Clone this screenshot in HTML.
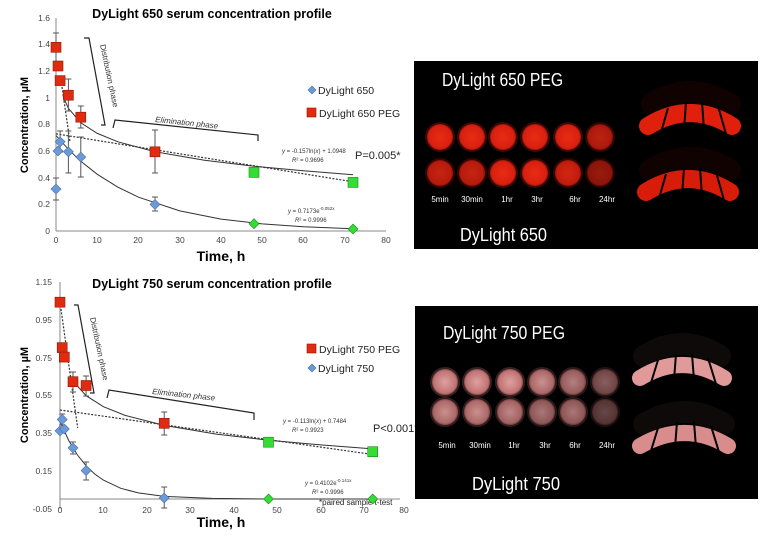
<!DOCTYPE html>
<html><head><meta charset="utf-8"><style>
html,body{margin:0;padding:0;background:#fff;}
svg{display:block;font-family:"Liberation Sans",sans-serif;}
</style></head><body>
<svg width="770" height="542" viewBox="0 0 770 542" xmlns="http://www.w3.org/2000/svg">
<defs>
<radialGradient id="wr" cx="50%" cy="50%" r="50%"><stop offset="0" stop-color="#e82c14"/><stop offset="0.8" stop-color="#d82010"/><stop offset="1" stop-color="#801008"/></radialGradient>
<radialGradient id="wp" cx="50%" cy="50%" r="50%"><stop offset="0" stop-color="#e0a0a0"/><stop offset="0.8" stop-color="#c07474"/><stop offset="1" stop-color="#603838"/></radialGradient>
</defs>

<!-- ===== TOP CHART ===== -->
<text x="212" y="18" font-size="12.5" font-weight="bold" text-anchor="middle">DyLight 650 serum concentration profile</text>
<g stroke="#888" stroke-width="1">
<line x1="56" y1="18" x2="56" y2="231"/><line x1="56" y1="231" x2="386" y2="231"/>
</g>
<g font-size="8.5" fill="#444" text-anchor="end">
<text x="50" y="234">0</text><text x="50" y="207">0.2</text><text x="50" y="181">0.4</text><text x="50" y="154">0.6</text><text x="50" y="127">0.8</text><text x="50" y="101">1</text><text x="50" y="74">1.2</text><text x="50" y="47">1.4</text><text x="50" y="21">1.6</text>
</g>
<g font-size="8.5" fill="#444" text-anchor="middle">
<text x="56" y="243">0</text><text x="97" y="243">10</text><text x="138" y="243">20</text><text x="180" y="243">30</text><text x="221" y="243">40</text><text x="262" y="243">50</text><text x="303" y="243">60</text><text x="345" y="243">70</text><text x="386" y="243">80</text>
</g>
<text x="221" y="261" font-size="14" font-weight="bold" text-anchor="middle">Time, h</text>
<text transform="translate(28,125) rotate(-90)" font-size="11" font-weight="bold" text-anchor="middle">Concentration, µM</text>

<g fill="none" stroke="#333" stroke-width="1">
<polyline points="56,135.6 68.4,149.3 80.8,161.3 97.3,174.3 117.9,187.2 138.5,197.2 179.8,210.9 221,219.1 262.3,223.9 303.5,226.8 353,228.8"/>
<polyline points="63,96.3 68.4,108.3 80.8,122.8 97.3,133.4 117.9,141.8 155,151.7 204.5,160.2 254,166.2 303.5,170.8 353,174.7"/>
</g>
<g fill="none" stroke="#333" stroke-width="1.2" stroke-dasharray="2,1.5">
<line x1="56" y1="133.8" x2="353" y2="181.8"/>
<line x1="62" y1="87" x2="70" y2="142"/>
</g>
<g stroke="#555" stroke-width="1">
<path d="M56,33V62M53,33h6M53,62h6"/>
<path d="M68.4,79V111M65.4,79h6M65.4,111h6"/>
<path d="M80.8,106V128M77.8,106h6M77.8,128h6"/>
<path d="M155,130V173M152,130h6M152,173h6"/>
<path d="M56,178V200M53,178h6M53,200h6"/>
<path d="M60.1,131V152M57.1,131h6M57.1,152h6"/>
<path d="M68.4,131V173M65.4,131h6M65.4,173h6"/>
<path d="M80.8,137V177M77.8,137h6M77.8,177h6"/>
<path d="M155,197V211M152,197h6M152,211h6"/>
</g>
<g fill="#6a9ad8" stroke="#4a6ea8" stroke-width="0.6">
<path d="M56,184l5,5l-5,5l-5,-5z"/><path d="M58,146l5,5l-5,5l-5,-5z"/><path d="M60.1,136.8l5,5l-5,5l-5,-5z"/><path d="M68.4,146.8l5,5l-5,5l-5,-5z"/><path d="M80.8,152.1l5,5l-5,5l-5,-5z"/><path d="M155,199.4l5,5l-5,5l-5,-5z"/>
</g>
<g fill="#33dd33" stroke="#1a8a1a" stroke-width="0.6">
<path d="M254,218.7l5,5l-5,5l-5,-5z"/><path d="M353,224l5,5l-5,5l-5,-5z"/>
<rect x="249" y="167.4" width="10" height="10"/><rect x="348" y="177.4" width="10" height="10"/>
</g>
<g fill="#e02b10" stroke="#8a1a08" stroke-width="0.6">
<rect x="51" y="42.3" width="10" height="10"/><rect x="53" y="61" width="10" height="10"/><rect x="55.1" y="75.6" width="10" height="10"/><rect x="63.4" y="90.2" width="10" height="10"/><rect x="75.8" y="112.2" width="10" height="10"/><rect x="150" y="146.8" width="10" height="10"/>
</g>
<g fill="none" stroke="#222" stroke-width="1.2">
<path d="M84,38H89L105,125H101"/>
<path d="M113,128L115,120L258,135V141"/>
</g>
<text transform="translate(100,45) rotate(78)" font-size="8" fill="#333">Distribution phase</text>
<text transform="translate(155,122) rotate(6)" font-size="8" font-style="italic" fill="#333">Elimination phase</text>
<path d="M312,86l4,4l-4,4l-4,-4z" fill="#6a9ad8" stroke="#4a6ea8" stroke-width="0.6"/>
<text x="318" y="94" font-size="10.5" fill="#222">DyLight 650</text>
<rect x="307" y="108" width="9" height="9" fill="#e02b10" stroke="#8a1a08" stroke-width="0.6"/>
<text x="319" y="117" font-size="10.5" fill="#222">DyLight 650 PEG</text>
<text x="282" y="153" font-size="6" fill="#333"><tspan font-style="italic">y</tspan> = -0.157ln(<tspan font-style="italic">x</tspan>) + 1.0948</text>
<text x="292" y="162" font-size="6" fill="#333"><tspan font-style="italic">R</tspan>² = 0.9696</text>
<text x="355" y="159" font-size="11" fill="#222">P=0.005*</text>
<text x="288" y="213" font-size="6" fill="#333"><tspan font-style="italic">y</tspan> = 0.7173e<tspan font-size="4.5" dy="-3">-0.052x</tspan></text>
<text x="295" y="222" font-size="6" fill="#333"><tspan font-style="italic">R</tspan>² = 0.9996</text>

<!-- ===== BOTTOM CHART ===== -->
<text x="212" y="288" font-size="12.5" font-weight="bold" text-anchor="middle">DyLight 750 serum concentration profile</text>
<g stroke="#888" stroke-width="1">
<line x1="60" y1="282" x2="60" y2="509"/><line x1="60" y1="499" x2="400" y2="499"/>
</g>
<g font-size="8.5" fill="#444" text-anchor="end">
<text x="52" y="512">-0.05</text><text x="52" y="474">0.15</text><text x="52" y="436">0.35</text><text x="52" y="398">0.55</text><text x="52" y="361">0.75</text><text x="52" y="323">0.95</text><text x="52" y="285">1.15</text>
</g>
<g font-size="8.5" fill="#444" text-anchor="middle">
<text x="60" y="513">0</text><text x="103" y="513">10</text><text x="147" y="513">20</text><text x="190" y="513">30</text><text x="234" y="513">40</text><text x="277" y="513">50</text><text x="321" y="513">60</text><text x="364" y="513">70</text><text x="404" y="513">80</text>
</g>
<text x="221" y="527" font-size="14" font-weight="bold" text-anchor="middle">Time, h</text>
<text x="319" y="505" font-size="8" fill="#222">*paired sample t-test</text>
<text transform="translate(28,395) rotate(-90)" font-size="11" font-weight="bold" text-anchor="middle">Concentration, µM</text>

<g fill="none" stroke="#333" stroke-width="1">
<polyline points="60,421.4 68.7,440.5 77.4,454.9 86.1,465.8 94.7,474 103.4,480.1 120.8,488.3 138.2,492.9 164.2,496.4 212,498.4 268,499 372.7,499"/>
<polyline points="73,381 86.1,395.7 103.4,406.7 125.1,415.4 164.2,425.4 216.3,434.1 268.5,440.2 320.6,444.9 372.7,448.9"/>
</g>
<g fill="none" stroke="#333" stroke-width="1.2" stroke-dasharray="2,1.5">
<line x1="60" y1="410" x2="372.7" y2="454.5"/>
<line x1="60" y1="302" x2="77.7" y2="428"/>
</g>
<g stroke="#555" stroke-width="1">
<path d="M73,372V392M70,372h6M70,392h6"/>
<path d="M86.1,376V396M83.1,376h6M83.1,396h6"/>
<path d="M164.2,412V435M161.2,412h6M161.2,435h6"/>
<path d="M62.2,414V425M59.2,414h6M59.2,425h6"/>
<path d="M73,442V454M70,442h6M70,454h6"/>
<path d="M86.1,462V480M83.1,462h6M83.1,480h6"/>
<path d="M164.2,487V508M161.2,487h6M161.2,508h6"/>
</g>
<g fill="#6a9ad8" stroke="#4a6ea8" stroke-width="0.6">
<path d="M60,425.9l5,5l-5,5l-5,-5z"/><path d="M62.2,414.5l5,5l-5,5l-5,-5z"/><path d="M64.3,424l5,5l-5,5l-5,-5z"/><path d="M73,442.9l5,5l-5,5l-5,-5z"/><path d="M86.1,465.6l5,5l-5,5l-5,-5z"/><path d="M164.2,493l5,5l-5,5l-5,-5z"/>
</g>
<g fill="#33dd33" stroke="#1a8a1a" stroke-width="0.6">
<path d="M268.5,494l5,5l-5,5l-5,-5z"/><path d="M372.7,494l5,5l-5,5l-5,-5z"/>
<rect x="263.5" y="437.2" width="10" height="10"/><rect x="367.7" y="446.7" width="10" height="10"/>
</g>
<g fill="#e02b10" stroke="#8a1a08" stroke-width="0.6">
<rect x="55" y="297.2" width="10" height="10"/><rect x="57.2" y="342.6" width="10" height="10"/><rect x="59.3" y="352.1" width="10" height="10"/><rect x="68" y="376.7" width="10" height="10"/><rect x="81.1" y="380.5" width="10" height="10"/><rect x="159.2" y="418.3" width="10" height="10"/>
</g>
<g fill="none" stroke="#222" stroke-width="1.2">
<path d="M74,305H78L94,393H90"/>
<path d="M107,398L109,390L254,413V420"/>
</g>
<text transform="translate(90,318) rotate(78)" font-size="8" fill="#333">Distribution phase</text>
<text transform="translate(152,394) rotate(6)" font-size="8" font-style="italic" fill="#333">Elimination phase</text>
<rect x="307" y="344" width="9" height="9" fill="#e02b10" stroke="#8a1a08" stroke-width="0.6"/>
<text x="319" y="353" font-size="10.5" fill="#222">DyLight 750 PEG</text>
<path d="M312,364l4,4l-4,4l-4,-4z" fill="#6a9ad8" stroke="#4a6ea8" stroke-width="0.6"/>
<text x="318" y="372" font-size="10.5" fill="#222">DyLight 750</text>
<text x="283" y="423" font-size="6" fill="#333"><tspan font-style="italic">y</tspan> = -0.113ln(<tspan font-style="italic">x</tspan>) + 0.7484</text>
<text x="292" y="432" font-size="6" fill="#333"><tspan font-style="italic">R</tspan>² = 0.9923</text>
<text x="373" y="432" font-size="11" fill="#222">P&lt;0.001*</text>
<text x="305" y="485" font-size="6" fill="#333"><tspan font-style="italic">y</tspan> = 0.4102e<tspan font-size="4.5" dy="-3">-0.141x</tspan></text>
<text x="312" y="494" font-size="6" fill="#333"><tspan font-style="italic">R</tspan>² = 0.9996</text>

<!-- ===== TOP PHOTO ===== -->
<rect x="414" y="61" width="344" height="188" fill="#000"/>
<text x="442" y="86" font-size="18" fill="#fff" textLength="121" lengthAdjust="spacingAndGlyphs">DyLight 650 PEG</text>
<g fill="url(#wr)" stroke="#3a0804" stroke-width="2">
<circle cx="440" cy="137" r="14"/><circle cx="472" cy="137" r="14"/><circle cx="503" cy="137" r="14"/><circle cx="535" cy="137" r="14"/><circle cx="568" cy="137" r="14"/><circle cx="600" cy="137" r="14" opacity="0.8"/>
<circle cx="440" cy="173" r="14" opacity="0.85"/><circle cx="472" cy="173" r="14" opacity="0.85"/><circle cx="503" cy="173" r="14"/><circle cx="535" cy="173" r="14"/><circle cx="568" cy="173" r="14" opacity="0.9"/><circle cx="600" cy="173" r="14" opacity="0.65"/>
</g>
<g font-size="8" fill="#fff" text-anchor="middle">
<text x="440" y="202">5min</text><text x="472" y="202">30min</text><text x="507" y="202">1hr</text><text x="537" y="202">3hr</text><text x="575" y="202">6hr</text><text x="607" y="202">24hr</text>
</g>
<text x="460" y="241" font-size="18" fill="#fff" textLength="87" lengthAdjust="spacingAndGlyphs">DyLight 650</text>
<g fill="none" stroke-linecap="round">
<path d="M652,104 Q690,80 730,104" stroke="#1c0403" stroke-width="22" opacity="0.6"/>
<path d="M648,126 Q690,100 732,126" stroke="#e0200c" stroke-width="18"/>
<path d="M650,170 Q690,146 730,170" stroke="#1c0403" stroke-width="22" opacity="0.6"/>
<path d="M646,192 Q688,166 730,192" stroke="#d81c0a" stroke-width="18"/>
</g>
<g stroke="#000" stroke-width="2">
<path d="M668,108L660,136M686,102L684,130M702,102L704,130M718,106L726,134"/>
<path d="M666,174L658,202M684,168L682,196M700,168L702,196M716,172L724,200"/>
</g>

<!-- ===== BOTTOM PHOTO ===== -->
<rect x="415" y="306" width="343" height="193" fill="#000"/>
<text x="443" y="339" font-size="18" fill="#fff" textLength="122" lengthAdjust="spacingAndGlyphs">DyLight 750 PEG</text>
<g fill="url(#wp)" stroke="#3a2020" stroke-width="2">
<circle cx="445" cy="382" r="14"/><circle cx="477" cy="382" r="14"/><circle cx="510" cy="382" r="14"/><circle cx="542" cy="382" r="14" opacity="0.9"/><circle cx="573" cy="382" r="14" opacity="0.8"/><circle cx="605" cy="382" r="14" opacity="0.6"/>
<circle cx="445" cy="412" r="14" opacity="0.9"/><circle cx="477" cy="412" r="14" opacity="0.9"/><circle cx="510" cy="412" r="14" opacity="0.85"/><circle cx="542" cy="412" r="14" opacity="0.75"/><circle cx="573" cy="412" r="14" opacity="0.75"/><circle cx="605" cy="412" r="14" opacity="0.45"/>
</g>
<g font-size="8" fill="#fff" text-anchor="middle">
<text x="447" y="448">5min</text><text x="480" y="448">30min</text><text x="514" y="448">1hr</text><text x="545" y="448">3hr</text><text x="575" y="448">6hr</text><text x="607" y="448">24hr</text>
</g>
<text x="472" y="490" font-size="18" fill="#fff" textLength="88" lengthAdjust="spacingAndGlyphs">DyLight 750</text>
<g fill="none" stroke-linecap="round">
<path d="M644,356 Q682,332 720,356" stroke="#181010" stroke-width="22" opacity="0.6"/>
<path d="M640,378 Q682,352 724,378" stroke="#e09a9a" stroke-width="16"/>
<path d="M644,424 Q685,400 724,424" stroke="#181010" stroke-width="22" opacity="0.6"/>
<path d="M640,446 Q685,420 728,446" stroke="#d88c8c" stroke-width="16"/>
</g>
<g stroke="#000" stroke-width="2">
<path d="M658,360L650,386M676,354L674,380M692,354L694,380M708,358L716,384"/>
<path d="M658,428L650,454M677,422L675,448M694,422L696,448M711,426L719,452"/>
</g>
</svg>
</body></html>
